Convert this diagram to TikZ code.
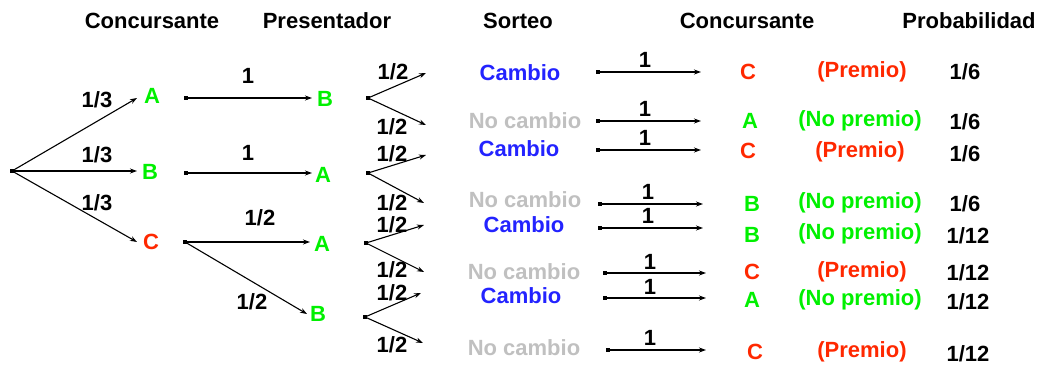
\documentclass[tikz,border=0pt]{standalone}
\usepackage{fontspec}
\setmainfont{Liberation Sans}[BoldFont={* Bold}]
\usetikzlibrary{arrows.meta}
\definecolor{cgreen}{RGB}{0,240,0}
\definecolor{cred}{RGB}{255,40,0}
\definecolor{cblue}{RGB}{35,35,255}
\definecolor{cgray}{RGB}{192,192,192}
\begin{document}
\begin{tikzpicture}[x=1pt,y=-1pt,
  txt/.style={inner sep=0pt,font=\fontsize{22}{26}\selectfont\bfseries},
  gr/.style={txt,text=cgreen},
  rd/.style={txt,text=cred},
  bl/.style={txt,text=cblue},
  gy/.style={txt,text=cgray},
  arr/.style={line width=1.1pt,-{Stealth[length=7pt,width=5pt]}},
  dot/.style={fill=black,minimum size=4pt,inner sep=0pt,outer sep=0pt,draw=none,rectangle}]
\useasboundingbox (0,0) rectangle (1044,370);
% headers
\node[txt] (h1) at (152,21) {Concursante};
\node[txt] (h2) at (327,21) {Presentador};
\node[txt] (h3) at (518,21) {Sorteo};
\node[txt] (h4) at (747,21) {Concursante};
\node[txt] (h5) at (969,21) {Probabilidad};
% stage 1
\node[dot] (r) at (12,171) {};
\coordinate (t1a) at (137,98);
\coordinate (t1b) at (137,171);
\coordinate (t1c) at (137,242);
\draw[arr] (r.center) -- (t1a);
\draw[arr] (r.center) -- (t1b);
\draw[arr] (r.center) -- (t1c);
\node[txt] (p1a) at (97,100) {1/3};
\node[txt] (p1b) at (97,155) {1/3};
\node[txt] (p1c) at (97,203) {1/3};
\node[gr] (nA) at (152,96) {A};
\node[gr] (nB) at (150,172) {B};
\node[rd] (nC) at (151,242) {C};
% stage 2
\node[dot] (s2a) at (186,98) {};
\node[dot] (s2b) at (186,173) {};
\node[dot] (s2c) at (185,242) {};
\coordinate (t2a) at (312,98);
\coordinate (t2b) at (312,173);
\coordinate (t2c) at (310,242);
\coordinate (t2d) at (307,314);
\draw[arr] (s2a.center) -- (t2a);
\draw[arr] (s2b.center) -- (t2b);
\draw[arr] (s2c.center) -- (t2c);
\draw[arr] (s2c.center) -- (t2d);
\node[txt] (p2a) at (248,76) {1};
\node[txt] (p2b) at (248,153) {1};
\node[txt] (p2c) at (260,218) {1/2};
\node[txt] (p2d) at (252,302) {1/2};
\node[gr] (mB1) at (325,99) {B};
\node[gr] (mA1) at (323,175) {A};
\node[gr] (mA2) at (322,244) {A};
\node[gr] (mB2) at (318,314) {B};
% stage 3
\node[dot] (d1) at (368,98) {};
\node[dot] (d2) at (368,173) {};
\node[dot] (d3) at (366,243) {};
\node[dot] (d4) at (365,317) {};
\coordinate (e1) at (426,73);
\coordinate (e2) at (426,125);
\coordinate (e3) at (426,155);
\coordinate (e4) at (424,203);
\coordinate (e5) at (424,225);
\coordinate (e6) at (424,272);
\coordinate (e7) at (421,293);
\coordinate (e8) at (423,343);
\draw[arr] (d1.center) -- (e1);
\draw[arr] (d1.center) -- (e2);
\draw[arr] (d2.center) -- (e3);
\draw[arr] (d2.center) -- (e4);
\draw[arr] (d3.center) -- (e5);
\draw[arr] (d3.center) -- (e6);
\draw[arr] (d4.center) -- (e7);
\draw[arr] (d4.center) -- (e8);
\node[txt] (q1) at (393,72) {1/2};
\node[txt] (q2) at (392,127) {1/2};
\node[txt] (q3) at (392,154) {1/2};
\node[txt] (q4) at (392,203) {1/2};
\node[txt] (q5) at (392,225) {1/2};
\node[txt] (q6) at (392,270) {1/2};
\node[txt] (q7) at (392,293) {1/2};
\node[txt] (q8) at (392,345) {1/2};
% sorteo
\node[bl] (so1) at (520,73) {Cambio};
\node[gy] (so2) at (525,121) {No cambio};
\node[bl] (so3) at (519,149) {Cambio};
\node[gy] (so4) at (525,200) {No cambio};
\node[bl] (so5) at (524,225) {Cambio};
\node[gy] (so6) at (524,272) {No cambio};
\node[bl] (so7) at (521,296) {Cambio};
\node[gy] (so8) at (524,348) {No cambio};
% row arrows
\node[dot] (f1) at (598,72) {};
\node[dot] (f2) at (598,121) {};
\node[dot] (f3) at (598,150) {};
\node[dot] (f4) at (600,204) {};
\node[dot] (f5) at (600,228) {};
\node[dot] (f6) at (605,273) {};
\node[dot] (f7) at (605,298) {};
\node[dot] (f8) at (608,350) {};
\coordinate (g1) at (701,72);
\coordinate (g2) at (701,121);
\coordinate (g3) at (701,150);
\coordinate (g4) at (703,204);
\coordinate (g5) at (703,228);
\coordinate (g6) at (706,273);
\coordinate (g7) at (706,298);
\coordinate (g8) at (706,350);
\foreach \i in {1,...,8} {\draw[arr] (f\i.center) -- (g\i);}
\node[txt] (o1) at (645,60) {1};
\node[txt] (o2) at (645,109) {1};
\node[txt] (o3) at (645,138) {1};
\node[txt] (o4) at (648,192) {1};
\node[txt] (o5) at (648,216) {1};
\node[txt] (o6) at (650,262) {1};
\node[txt] (o7) at (650,287) {1};
\node[txt] (o8) at (650,338) {1};
% final concursante
\node[rd] (c1) at (748,72) {C};
\node[gr] (c2) at (750,121) {A};
\node[rd] (c3) at (748,151) {C};
\node[gr] (c4) at (752,204) {B};
\node[gr] (c5) at (752,235) {B};
\node[rd] (c6) at (752,272) {C};
\node[gr] (c7) at (752,300) {A};
\node[rd] (c8) at (755,352) {C};
% outcome
\node[rd] (w1) at (862,72) {(Premio)};
\node[gr] (w2) at (860,121) {(No premio)};
\node[rd] (w3) at (860,152) {(Premio)};
\node[gr] (w4) at (860,203) {(No premio)};
\node[gr] (w5) at (860,234) {(No premio)};
\node[rd] (w6) at (862,272) {(Premio)};
\node[gr] (w7) at (860,300) {(No premio)};
\node[rd] (w8) at (862,352) {(Premio)};
% probabilities
\node[txt] (pr1) at (965,72) {1/6};
\node[txt] (pr2) at (965,122) {1/6};
\node[txt] (pr3) at (965,154) {1/6};
\node[txt] (pr4) at (965,204) {1/6};
\node[txt] (pr5) at (968,236) {1/12};
\node[txt] (pr6) at (968,273) {1/12};
\node[txt] (pr7) at (968,302) {1/12};
\node[txt] (pr8) at (968,354) {1/12};
\end{tikzpicture}
\end{document}
